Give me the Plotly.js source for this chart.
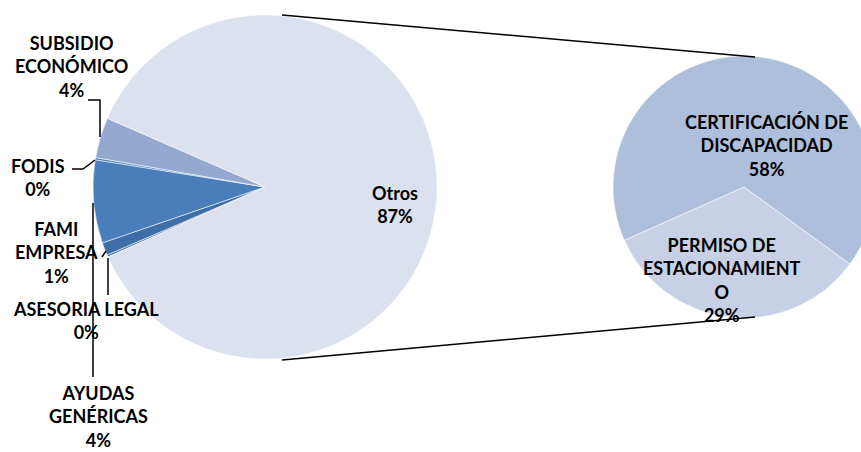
<!DOCTYPE html>
<html>
<head>
<meta charset="utf-8">
<script src="https://cdn.plot.ly/plotly-3.0.1.min.js"></script>
<style>
html,body{margin:0;padding:0;overflow:hidden;background:#fff;}
#chart{width:900px;height:452px;}
</style>
</head>
<body>
<div id="chart"></div>
<script>
// Main pie (clockwise order as drawn)
const mainCategories = ["ASESORIA LEGAL", "FAMI EMPRESA", "AYUDAS GENÉRICAS", "FODIS", "SUBSIDIO ECONÓMICO", "Otros"];
const mainValues = [0.2, 1.2, 7.8, 0.2, 3.8, 86.8];
const mainPctLabels = ["0%", "1%", "4%", "0%", "4%", "87%"];
const mainColors = ["#3E6EA8", "#3E6EA8", "#4A7EBB", "#4A7EBB", "#95A9D0", "#DBE1EE"];

// Secondary pie (breakdown of "Otros")
const subCategories = ["PERMISO DE ESTACIONAMIENTO", "CERTIFICACIÓN DE DISCAPACIDAD"];
const subValues = [29, 58];
const subPctLabels = ["29%", "58%"];
const subColors = ["#C7D0E5", "#AEBFDB"];

const W = 900, H = 452;
const px = x => x / W;
const py = y => 1 - y / H;

const font = {family: "Lato, 'Open Sans', sans-serif", size: 18, color: "#000"};

const traces = [
  {
    type: "pie", labels: mainCategories, values: mainValues, sort: false,
    direction: "clockwise", rotation: 246, textinfo: "none", hoverinfo: "label+value",
    marker: {colors: mainColors, line: {color: "rgba(255,255,255,0.7)", width: 0.8}},
    domain: {x: [px(93), px(437)], y: [py(359), py(15)]}, showlegend: false
  },
  {
    type: "pie", labels: subCategories, values: subValues, sort: false,
    direction: "clockwise", rotation: 126, textinfo: "none", hoverinfo: "label+value",
    marker: {colors: subColors, line: {color: "rgba(255,255,255,0.7)", width: 0.8}},
    domain: {x: [px(613), px(875)], y: [py(318), py(56)]}, showlegend: false
  }
];

function lbl(text, x, y) {
  return {text: text, xref: "paper", yref: "paper", x: px(x), y: py(y),
          xanchor: "center", yanchor: "middle", showarrow: false, align: "center",
          font: font};
}
const annotations = [
  lbl("<b>SUBSIDIO<br>ECONÓMICO<br>" + mainPctLabels[4] + "</b>", 71, 67),
  lbl("<b>FODIS<br>" + mainPctLabels[3] + "</b>", 38, 177),
  lbl("<b>FAMI<br>EMPRESA<br>" + mainPctLabels[1] + "</b>", 56, 252),
  lbl("<b>ASESORIA LEGAL<br>" + mainPctLabels[0] + "</b>", 86, 320),
  lbl("<b>AYUDAS<br>GENÉRICAS<br>" + mainPctLabels[2] + "</b>", 98, 416),
  lbl("<b>" + mainCategories[5] + "<br>" + mainPctLabels[5] + "</b>", 395, 204),
  lbl("<b>CERTIFICACIÓN DE<br>DISCAPACIDAD<br>" + subPctLabels[1] + "</b>", 766, 146),
  lbl("<b>PERMISO DE<br>ESTACIONAMIENT<br>O<br>" + subPctLabels[0] + "</b>", 722, 280)
];

function path(pts) {
  return "M" + pts.map(p => px(p[0]).toFixed(5) + "," + py(p[1]).toFixed(5)).join(" L");
}
function ln(pts, w) {
  return {type: "path", xref: "paper", yref: "paper", path: path(pts),
          line: {color: "#000", width: w || 1.5}};
}
const shapes = [
  ln([[282, 15], [755, 57]]),
  ln([[282, 360], [755, 317]]),
  ln([[88, 100], [100, 100], [100, 137]]),
  ln([[72, 169], [83, 169], [95, 160]]),
  ln([[93, 203], [93, 377]]),
  ln([[102, 257], [106, 251]]),
  ln([[108, 258], [108, 295]])
];

Plotly.newPlot("chart", traces, {
  width: W, height: H, margin: {l: 0, r: 0, t: 0, b: 0},
  paper_bgcolor: "#fff", plot_bgcolor: "#fff",
  annotations: annotations, shapes: shapes, showlegend: false
}, {displayModeBar: false, staticPlot: true});
</script>
</body>
</html>
